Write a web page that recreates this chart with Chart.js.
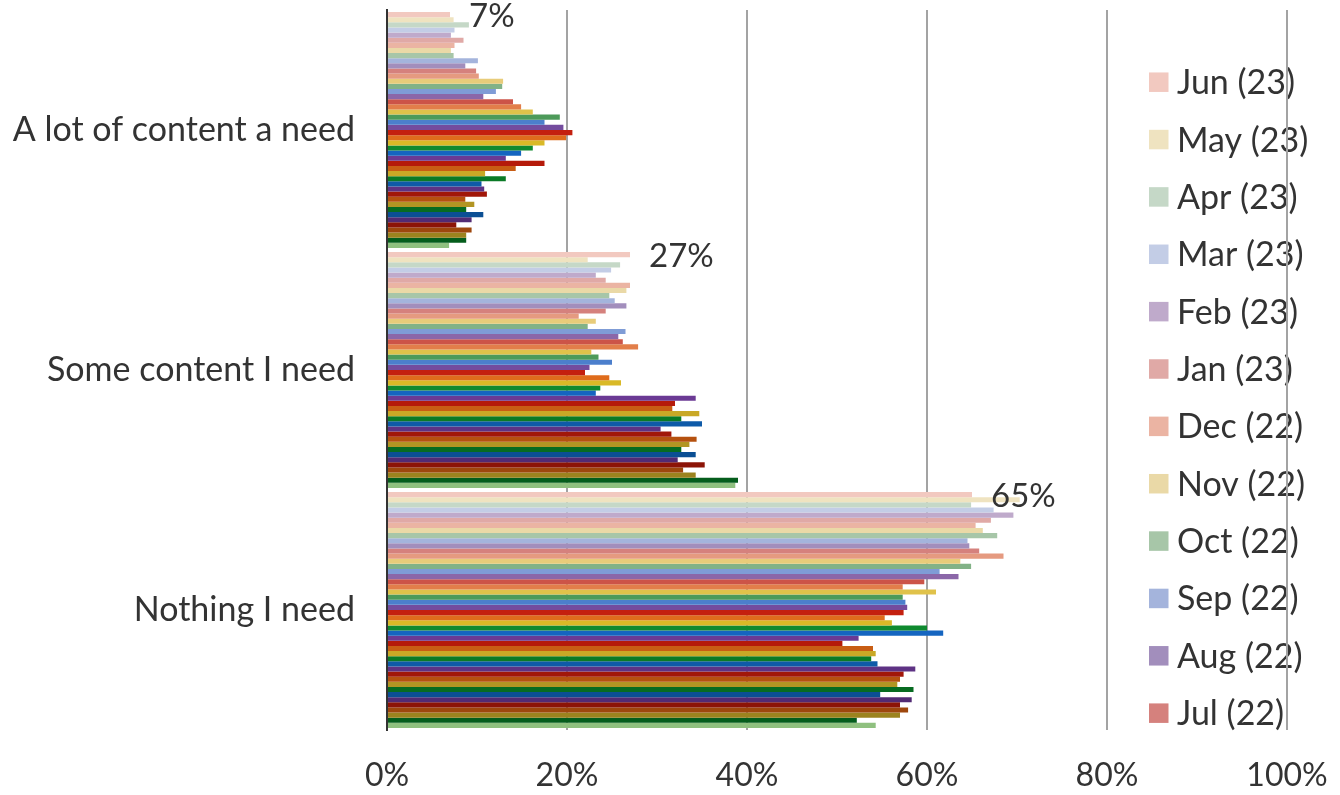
<!DOCTYPE html>
<html>
<head>
<meta charset="utf-8">
<title>Content found per month</title>
<script src="https://cdn.jsdelivr.net/npm/chart.js@4.4.0/dist/chart.umd.min.js"></script>
<style>
  html, body { margin: 0; padding: 0; background: #ffffff; }
  #chart { display: block; }
</style>
</head>
<body>
<canvas id="chart" width="1340" height="795"></canvas>
<script>
// Answer categories (top to bottom)
const categories = ['A lot of content a need', 'Some content I need', 'Nothing I need'];

// Survey months, newest first (drawn top to bottom inside each category)
const months = [
  'Jun (23)', 'May (23)', 'Apr (23)', 'Mar (23)', 'Feb (23)', 'Jan (23)',
  'Dec (22)', 'Nov (22)', 'Oct (22)', 'Sep (22)', 'Aug (22)', 'Jul (22)',
  'Jun (22)', 'May (22)', 'Apr (22)', 'Mar (22)', 'Feb (22)', 'Jan (22)',
  'Dec (21)', 'Nov (21)', 'Oct (21)', 'Sep (21)', 'Aug (21)', 'Jul (21)',
  'Jun (21)', 'May (21)', 'Apr (21)', 'Mar (21)', 'Feb (21)', 'Jan (21)',
  'Dec (20)', 'Nov (20)', 'Oct (20)', 'Sep (20)', 'Aug (20)', 'Jul (20)',
  'Jun (20)', 'May (20)', 'Apr (20)', 'Mar (20)', 'Feb (20)', 'Jan (20)',
  'Dec (19)', 'Nov (19)', 'Oct (19)', 'Sep (19)'
];

// One colour per month
const monthColours = [
  '#f2c9c0', '#efe3c0', '#c5d8c7', '#c3cde6', '#bfaacb', '#e0a9a6',
  '#ebb4a3', '#ead9a7', '#a7c6a8', '#a4b4dc', '#a28ebc', '#d5817d',
  '#e59a80', '#e8cc7a', '#82b287', '#7f9cd6', '#8b67a8', '#cc5448',
  '#e27e4a', '#e0c24a', '#4d9a5a', '#4c7fcc', '#744c9e', '#c4200f',
  '#df6c1c', '#d9b927', '#0f8a2f', '#1565c0', '#6b3a94', '#b51a0a',
  '#c85d14', '#c9a826', '#0a7a26', '#0e5aa8', '#5e3284', '#a11709',
  '#b5510f', '#b29523', '#076b21', '#0b4f94', '#522b74', '#8c1407',
  '#9e470d', '#9c831e', '#055d1c', '#8fc07f'
];

// Share of respondents (%) per month, one array per category
const aLotValues = [
  7, 7.4, 9.1, 7.5, 7.1, 8.5, 7.5, 7.1, 7.4, 10.1, 8.7, 9.9,
  10.2, 12.9, 12.8, 12.1, 10.7, 14.0, 14.9, 16.2, 19.2, 17.5, 19.6, 20.6,
  19.9, 17.5, 16.2, 14.9, 13.2, 17.5, 14.3, 10.9, 13.2, 10.5, 10.8, 11.1,
  8.7, 9.7, 8.8, 10.7, 9.4, 7.7, 9.4, 8.8, 8.8, 6.9
];
const someValues = [
  27, 22.3, 25.9, 24.9, 23.2, 24.3, 27.0, 26.6, 24.7, 25.3, 26.6, 24.3,
  21.3, 23.2, 22.3, 26.5, 25.7, 26.2, 27.9, 22.7, 23.5, 25.0, 22.5, 22.0,
  24.7, 26.0, 23.7, 23.2, 34.3, 32.0, 31.7, 34.7, 32.7, 35.0, 30.4, 31.6,
  34.4, 33.6, 32.7, 34.3, 32.3, 35.3, 32.9, 34.3, 39.0, 38.7
];
const nothingValues = [
  65, 70.3, 64.9, 67.4, 69.6, 67.1, 65.4, 66.2, 67.8, 64.5, 64.7, 65.8,
  68.5, 63.7, 64.9, 61.4, 63.5, 59.7, 57.3, 61.0, 57.3, 57.6, 57.8, 57.4,
  55.3, 56.1, 60.0, 61.8, 52.4, 50.6, 54.0, 54.3, 53.8, 54.5, 58.7, 57.4,
  57.0, 56.7, 58.5, 54.8, 58.3, 57.0, 57.9, 57.0, 52.2, 54.3
];

// Value axis ticks (%)
const xTicks = [0, 20, 40, 60, 80, 100];

// Only the most recent months are listed in the key
const legendCount = 12;

const FONT = 'Lato, "Open Sans", sans-serif';
const TEXT = '#333333';

const datasets = months.map((m, i) => ({
  label: m,
  data: [aLotValues[i], someValues[i], nothingValues[i]],
  backgroundColor: monthColours[i],
  borderWidth: 0
}));

// Key on the right, painted first so the grid runs over it
const sideKey = {
  id: 'sideKey',
  beforeDraw(chart) {
    const ctx = chart.ctx;
    ctx.save();
    ctx.fillStyle = '#ffffff';
    ctx.fillRect(0, 0, chart.width, chart.height);
    const items = chart.data.datasets.slice(0, legendCount);
    const box = 19.5, x0 = 1149, textX = 1177, y0 = 82.2, step = 57.36;
    ctx.font = '34px ' + FONT;
    ctx.textAlign = 'left';
    ctx.textBaseline = 'middle';
    items.forEach((ds, i) => {
      const cy = y0 + i * step;
      ctx.fillStyle = ds.backgroundColor;
      ctx.fillRect(x0, cy - box / 2, box, box);
      ctx.fillStyle = TEXT;
      ctx.fillText(ds.label, textX, cy + 1);
    });
    ctx.restore();
  }
};

// Value of the newest month, written after its bar
const newestLabels = {
  id: 'newestLabels',
  afterDatasetsDraw(chart) {
    const ctx = chart.ctx;
    const meta = chart.getDatasetMeta(0);
    const data = chart.data.datasets[0].data;
    ctx.save();
    ctx.font = '33px ' + FONT;
    ctx.fillStyle = TEXT;
    ctx.textAlign = 'left';
    ctx.textBaseline = 'middle';
    meta.data.forEach((el, i) => {
      ctx.fillText(Math.round(data[i]) + '%', el.x + 19, el.y + 2);
    });
    ctx.restore();
  }
};

new Chart(document.getElementById('chart'), {
  type: 'bar',
  data: { labels: categories, datasets },
  plugins: [sideKey, newestLabels],
  options: {
    indexAxis: 'y',
    responsive: false,
    animation: false,
    devicePixelRatio: 1,
    categoryPercentage: 0.983,
    barPercentage: 1,
    layout: { padding: { top: 10, right: 53, left: 0, bottom: 0 } },
    plugins: {
      legend: { display: false },
      tooltip: { enabled: false }
    },
    scales: {
      x: {
        type: 'linear',
        min: 0,
        max: 100,
        afterBuildTicks(scale) { scale.ticks = xTicks.map(v => ({ value: v })); },
        afterFit(scale) {
          scale.height = 65;
          scale.paddingLeft = 0;
          scale.paddingRight = 0;
        },
        ticks: {
          callback: v => v + '%',
          color: TEXT,
          font: { family: FONT, size: 32 },
          padding: 26,
          maxRotation: 0
        },
        grid: {
          drawTicks: false,
          color: c => (c.index === 0 ? 'rgba(0,0,0,0)' : '#a3a3a3'),
          lineWidth: 2
        },
        border: { display: false }
      },
      y: {
        afterFit(scale) {
          scale.width = 387;
          scale.paddingTop = 0;
          scale.paddingBottom = 0;
        },
        ticks: {
          color: TEXT,
          font: { family: FONT, size: 34 },
          padding: 32
        },
        grid: { display: false, drawTicks: false },
        border: { display: true, color: '#333333', width: 2, z: 1 }
      }
    }
  }
});
</script>
</body>
</html>
